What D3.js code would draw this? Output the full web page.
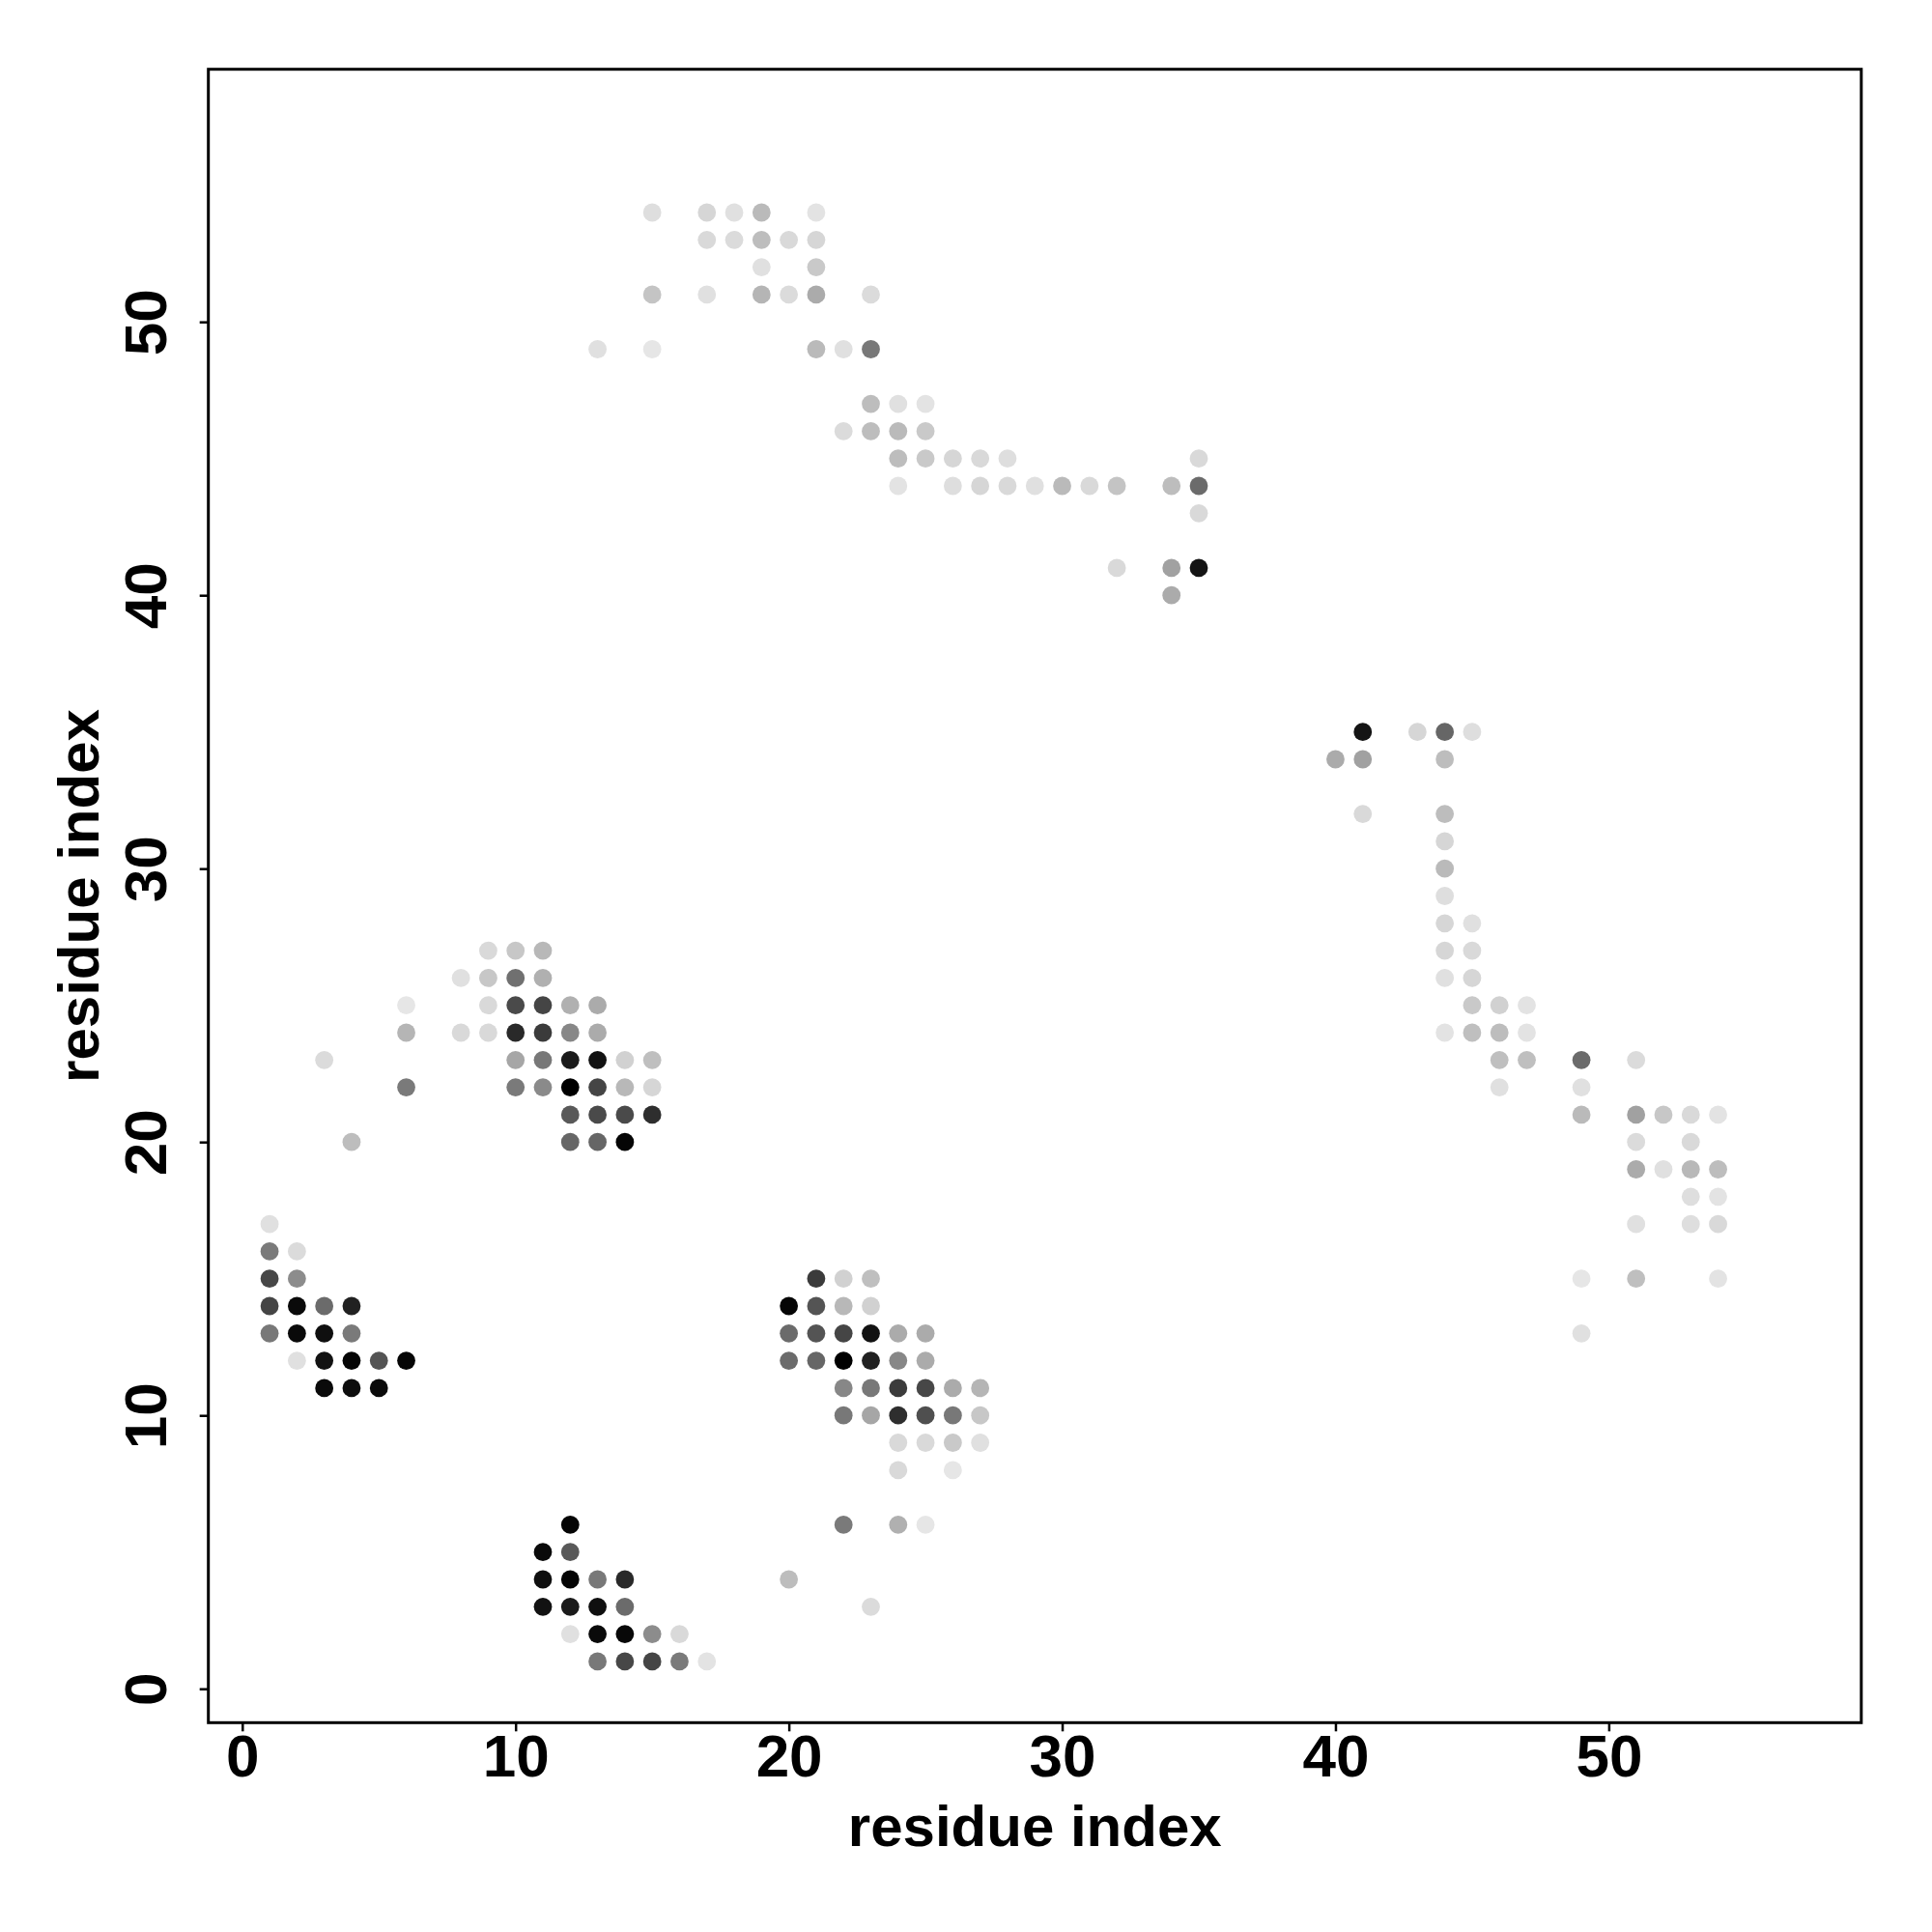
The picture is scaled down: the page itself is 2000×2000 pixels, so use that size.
<!DOCTYPE html>
<html>
<head>
<meta charset="utf-8">
<script src="https://cdn.jsdelivr.net/npm/d3@7"></script>
<style>
  html, body { margin: 0; padding: 0; background: #fff; }
  svg { display: block; }
  text { font-family: "Liberation Sans", Arial, Helvetica, sans-serif; font-weight: bold; fill: #000; }
</style>
</head>
<body>
<script>
// ---- data: residue contacts (x residue, y residue, contact weight 0..1) ----
const resX = [
  // cluster near (1..6, 11..17)
  1, 1,2, 1,2, 1,2,3,4, 1,2,3,4, 2,3,4,5,6, 3,4,5,
  // cluster near (11..17, 1..6)
  12, 11,12, 11,12,13,14, 11,12,13,14, 12,13,14,15,16, 13,14,15,16,17,
  // cluster near (3..15, 20..27)
  9,10,11, 8,9,10,11, 6,9,10,11,12,13, 6,8,9,10,11,12,13,
  3,10,11,12,13,14,15, 6,10,11,12,13,14,15, 12,13,14,15, 4,12,13,14,
  // cluster near (20..27, 3..15)
  21,22,23, 20,21,22,23, 20,21,22,23,24,25, 20,21,22,23,24,25,
  22,23,24,25,26,27, 22,23,24,25,26,27, 24,25,26,27, 24,26, 22,24,25, 20, 23,
  // cluster near (13..23, 49..54)
  15,17,18,19,21, 17,18,19,20,21, 19,21, 15,17,19,20,21,23, 13,15,21,22,23,
  // cluster near (22..35, 40..47)
  23,24,25, 22,23,24,25, 24,25,26,27,28,35,
  24,26,27,28,29,30,31,32,34,35, 35, 32,34,35, 34,
  // cluster near (40..47, 22..35)
  41,43,44,45, 40,41,44, 41,44, 44, 44, 44, 44,45, 44,45, 44,45,
  45,46,47, 44,45,46,47, 46,47, 46,
  // cluster near (49..54, 13..23)
  49,51, 49, 49,51,52,53,54, 51,53, 51,52,53,54, 53,54, 51,53,54, 49,51,54, 49
];
const resY = [
  17, 16,16, 15,15, 14,14,14,14, 13,13,13,13, 12,12,12,12,12, 11,11,11,
  6, 5,5, 4,4,4,4, 3,3,3,3, 2,2,2,2,2, 1,1,1,1,1,
  27,27,27, 26,26,26,26, 25,25,25,25,25,25, 24,24,24,24,24,24,24,
  23,23,23,23,23,23,23, 22,22,22,22,22,22,22, 21,21,21,21, 20,20,20,20,
  15,15,15, 14,14,14,14, 13,13,13,13,13,13, 12,12,12,12,12,12,
  11,11,11,11,11,11, 10,10,10,10,10,10, 9,9,9,9, 8,8, 6,6,6, 4, 3,
  54,54,54,54,54, 53,53,53,53,53, 52,52, 51,51,51,51,51,51, 49,49,49,49,49,
  47,47,47, 46,46,46,46, 45,45,45,45,45,45,
  44,44,44,44,44,44,44,44,44,44, 43, 41,41,41, 40,
  35,35,35,35, 34,34,34, 32,32, 31, 30, 29, 28,28, 27,27, 26,26,
  25,25,25, 24,24,24,24, 23,23, 22,
  23,23, 22, 21,21,21,21,21, 20,20, 19,19,19,19, 18,18, 17,17,17, 15,15,15, 13
];
const weight = [
  .12, .52,.14, .72,.45, .73,.96,.58,.87, .53,.96,.94,.52, .12,.93,.98,.67,.98, .96,.95,.96,
  .98, .96,.65, .94,.98,.53,.84, .93,.90,.94,.58, .12,.96,.97,.45,.15, .53,.72,.73,.52,.11,
  .15,.22,.28, .12,.22,.56,.31, .10,.15,.71,.73,.31,.33, .29,.15,.15,.84,.77,.47,.33,
  .14,.35,.53,.90,.93,.18,.25, .52,.52,.46,1.0,.73,.28,.16, .65,.71,.71,.82, .26,.60,.60,.98,
  .77,.18,.25, .98,.67,.28,.18, .58,.67,.73,.93,.33,.33, .58,.60,1.0,.87,.47,.33,
  .47,.53,.77,.72,.33,.29, .53,.35,.82,.69,.53,.22, .15,.15,.21,.12, .15,.10, .52,.31,.10, .26, .14,
  .13,.16,.12,.27,.11, .15,.14,.26,.15,.16, .12,.21, .23,.12,.29,.14,.33,.14, .12,.10,.27,.12,.53,
  .26,.12,.11, .14,.26,.27,.21, .26,.21,.16,.15,.13,.15,
  .11,.13,.16,.15,.12,.27,.15,.23,.26,.58, .15, .15,.37,.92, .33,
  .92,.16,.60,.13, .33,.37,.26, .15,.26, .16, .27, .13, .16,.12, .16,.15, .12,.16,
  .21,.18,.11, .11,.25,.26,.11, .25,.25, .12,
  .58,.14, .12, .27,.37,.22,.15,.11, .14,.15, .33,.12,.28,.26, .13,.11, .12,.13,.15, .10,.25,.11, .12
];
const residueRange = [1, 57];
const xTickValues = [0, 10, 20, 30, 40, 50];
const yTickValues = [0, 10, 20, 30, 40, 50];
const xLabel = "residue index";
const yLabel = "residue index";

// ---- layout ----
const W = 2000, H = 2000;
const box = { left: 215.7, right: 1926.8, top: 71.7, bottom: 1783.3 };

const pad = 0.04 * (residueRange[1] - residueRange[0]);
const dom = [residueRange[0] - pad, residueRange[1] + pad];

const x = d3.scaleLinear().domain(dom).range([box.left, box.right]);
const y = d3.scaleLinear().domain(dom).range([box.bottom, box.top]);
const shade = d3.scaleLinear().domain([0, 1]).range(["#ffffff", "#000000"]);

const svg = d3.select("body").append("svg")
  .attr("width", W).attr("height", H)
  .attr("viewBox", `0 0 ${W} ${H}`);

svg.append("rect").attr("width", W).attr("height", H).attr("fill", "#fff");

const points = resX.map((d, i) => ({ x: d, y: resY[i], w: weight[i] }));

svg.append("g").selectAll("circle")
  .data(points)
  .join("circle")
  .attr("cx", d => x(d.x))
  .attr("cy", d => y(d.y))
  .attr("r", 9.4)
  .attr("fill", d => shade(d.w));

// box
svg.append("rect")
  .attr("x", box.left).attr("y", box.top)
  .attr("width", box.right - box.left).attr("height", box.bottom - box.top)
  .attr("fill", "none").attr("stroke", "#000").attr("stroke-width", 3);

// x axis
const gx = svg.append("g")
  .attr("transform", `translate(0,${box.bottom})`)
  .call(d3.axisBottom(x).tickValues(xTickValues).tickSize(9).tickFormat(d3.format("d")));
gx.select(".domain").remove();
gx.selectAll(".tick line").attr("stroke", "#000").attr("stroke-width", 2.5);
gx.selectAll(".tick text")
  .attr("y", 56).attr("dy", null)
  .attr("font-size", 62)
  .style("font-family", '"Liberation Sans", Arial, sans-serif')
  .style("font-weight", "bold");

// y axis
const gy = svg.append("g")
  .attr("transform", `translate(${box.left},0)`)
  .call(d3.axisLeft(y).tickValues(yTickValues).tickSize(9).tickFormat(d3.format("d")));
gy.select(".domain").remove();
gy.selectAll(".tick line").attr("stroke", "#000").attr("stroke-width", 2.5);
gy.selectAll(".tick text")
  .attr("x", null).attr("dy", null).attr("y", null)
  .attr("text-anchor", "middle")
  .attr("transform", "translate(-44,0) rotate(-90)")
  .attr("font-size", 62)
  .style("font-family", '"Liberation Sans", Arial, sans-serif')
  .style("font-weight", "bold");

// axis titles
svg.append("text")
  .attr("x", (box.left + box.right) / 2)
  .attr("y", 1910.7)
  .attr("text-anchor", "middle")
  .attr("font-size", 60)
  .text(xLabel);

svg.append("text")
  .attr("transform", `translate(102,${(box.top + box.bottom) / 2}) rotate(-90)`)
  .attr("text-anchor", "middle")
  .attr("font-size", 60)
  .text(yLabel);
</script>
</body>
</html>
